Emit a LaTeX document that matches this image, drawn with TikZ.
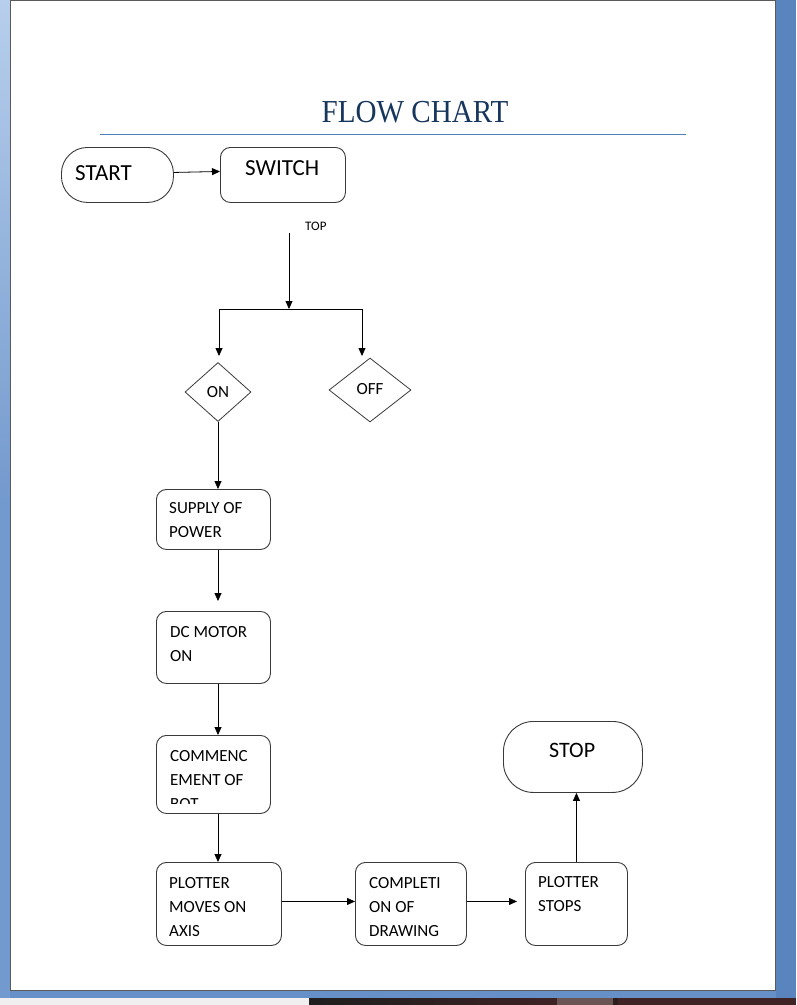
\documentclass[tikz,border=0pt]{standalone}
\usepackage{fontspec}
\setmainfont{Carlito}
\newfontfamily\titlefont{Liberation Serif}
\usetikzlibrary{arrows.meta,shapes.geometric}
\definecolor{bgblue}{HTML}{6790C8}
\definecolor{bgblueL}{HTML}{B7CFEC}
\definecolor{bgblueR}{HTML}{5A84BE}
\definecolor{titleblue}{HTML}{17365D}
\definecolor{rule}{HTML}{4F81BD}
\definecolor{boxline}{HTML}{3A3A3A}
\definecolor{pageedge}{HTML}{5A5A5A}
\definecolor{barL}{HTML}{F0F0F0}
\definecolor{barBrown}{HTML}{3E2224}
\definecolor{barMid}{HTML}{6A5454}
\definecolor{barDark}{HTML}{2D1E1E}
\begin{document}
\begin{tikzpicture}[x=1pt,y=-1pt,
  box/.style={draw=boxline, line width=0.9pt, rounded corners=10pt, inner sep=0pt, anchor=north west, fill=white},
  term/.style={box, rounded corners=26pt},
  txt/.style={anchor=base west, inner sep=0pt, align=left, font=\fontsize{17}{24}\selectfont},
  big/.style={anchor=base west, inner sep=0pt, font=\fontsize{23}{26}\selectfont},
  dia/.style={draw=boxline, line width=0.8pt, diamond, inner sep=0pt, font=\fontsize{17}{20}\selectfont},
  arr/.style={line width=0.8pt, -{Triangle[length=8pt,width=7pt]}},
  ln/.style={line width=0.8pt}]
\useasboundingbox (0,0) rectangle (796,1005);
% background window
\fill[bgblue] (0,0) rectangle (796,998);
\shade[top color=bgblueL, bottom color=bgblue!85!bgblueL] (0,0) rectangle (10,500);
\fill[bgblue!85!bgblueL] (0,500) rectangle (10,998);
\fill[bgblueR] (776,0) rectangle (796,998);
\fill[barL] (0,998) rectangle (309,1005);
\shade[left color=black!88, right color=barBrown] (309,998) rectangle (557,1005);
\fill[barMid] (557,998) rectangle (613,1005);
\fill[barDark] (613,998) rectangle (618,1005);
\fill[barBrown] (618,998) rectangle (796,1005);
% page
\fill[white] (10,0) rectangle (776,991);
\draw[pageedge, line width=0.9pt] (10.5,0.5) -- (10.5,990.5) -- (775.5,990.5) -- (775.5,0.5) -- cycle;
% title
\node[anchor=base, inner sep=0pt, text=titleblue, font=\titlefont\fontsize{32}{36}\selectfont] (title) at (415,122) {\scalebox{0.91}[1]{FLOW CHART}};
\draw[rule, line width=0.9pt] (100,134) -- (686,134);
% terminals and boxes
\node[term, minimum width=112pt, minimum height=55pt] (start) at (61,147) {};
\node[big] (tstart) at (75,180) {START};
\node[box, minimum width=125pt, minimum height=55pt] (switch) at (220,147) {};
\node[big] (tswitch) at (245,175) {SWITCH};
\node[anchor=base west, inner sep=0pt, font=\fontsize{13}{15}\selectfont] (ttop) at (305,230) {TOP};
\coordinate (top1) at (289,233);
\coordinate (split) at (289,309);
\coordinate (onin) at (219,356);
\coordinate (offin) at (362,356);
\node[dia, minimum width=66pt, minimum height=59pt] (on) at (218,392) {ON};
\node[dia, minimum width=82pt, minimum height=64pt] (off) at (370,390) {\raisebox{2pt}{OFF}};
\node[box, minimum width=114pt, minimum height=60pt] (supply) at (156,489) {};
\node[txt] (tsupply) at (169,537) {SUPPLY OF\\POWER};
\node[box, minimum width=114pt, minimum height=72pt] (dc) at (156,611) {};
\node[txt] (tdc) at (170,661) {DC MOTOR\\ON};
\node[box, minimum width=114pt, minimum height=78pt] (comm) at (156,735) {};
\begin{scope}
\clip (156,735) rectangle (270,803);
\node[txt] (tcomm) at (170,809) {COMMENC\\EMENT OF\\BOT};
\end{scope}
\node[box, minimum width=125pt, minimum height=83pt] (plot) at (156,862) {};
\node[txt] (tplot) at (169,936) {PLOTTER\\MOVES ON\\AXIS};
\node[box, minimum width=111pt, minimum height=83pt] (compl) at (355,862) {};
\node[txt] (tcompl) at (369,936) {COMPLETI\\ON OF\\DRAWING};
\node[box, minimum width=102pt, minimum height=83pt] (stops) at (525,862) {};
\node[txt] (tstops) at (538,911) {PLOTTER\\STOPS};
\node[box, rounded corners=30pt, minimum width=139pt, minimum height=71pt] (stop) at (503,721) {};
\node[big, font=\fontsize{22}{26}\selectfont] (tstop) at (549,757) {STOP};
% connectors
\draw[arr] ([yshift=2.5pt]start.east) -- ([yshift=3.5pt]switch.west);
\draw[arr] (top1) -- (split);
\draw[ln] (split -| onin) -- (split -| offin);
\draw[arr] (split -| onin) -- (onin);
\draw[arr] (split -| offin) -- (offin);
\draw[arr] (on.south) -- (on.south |- supply.north);
\draw[arr, shorten >=10pt] (supply.south -| on.south) -- (dc.north -| on.south);
\draw[arr] (dc.south -| on.south) -- (comm.north -| on.south);
\draw[arr] (comm.south -| on.south) -- (plot.north -| on.south);
\draw[arr] ([yshift=2.5pt]plot.east) -- ([yshift=2.5pt]compl.west);
\draw[arr, shorten >=8pt] ([yshift=2.5pt]compl.east) -- ([yshift=2.5pt]stops.west);
\draw[arr] (stops.north) -- (stops.north |- stop.south);
\end{tikzpicture}
\end{document}
